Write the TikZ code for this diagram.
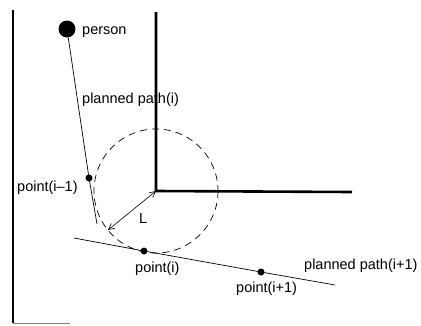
\documentclass[tikz,border=0pt]{standalone}
\usepackage{fontspec}
\setmainfont{Liberation Sans}
\usetikzlibrary{arrows.meta}
\begin{document}
\begin{tikzpicture}[x=1pt,y=-1pt,
  wall/.style={line width=2.6pt},
  pathline/.style={line width=0.7pt},
  dotpt/.style={circle,fill=black,inner sep=0pt,minimum size=7pt},
  lbl/.style={inner sep=0pt,anchor=base west,font=\fontsize{14.5}{16}\selectfont}]
\useasboundingbox (0,0) rectangle (421,325);
% walls
\coordinate (lw1) at (13,10);
\coordinate (lw2) at (13,323);
\coordinate (lb) at (70,323);
\draw[wall] (lw1) -- (lw2);
\draw[line width=0.8pt,gray] (lw2) -- (lb);
\coordinate (mw1) at (156,12);
\coordinate (corner) at (156,191);
\coordinate (hw) at (352,192);
\draw[wall,line join=miter] (mw1) -- (corner) -- (hw);
% dashed circle
\draw[dashed,dash pattern=on 7pt off 5pt,line width=0.7pt] (corner) circle[radius=62];
% person
\node[circle,fill=black,inner sep=0pt,minimum size=17pt] (person) at (67,29) {};
\node[lbl] (personl) at (82,34) {person};
% planned path(i)
\node[dotpt] (pim1) at (89,178) {};
\coordinate (pend) at (97,224);
\draw[pathline] (person) -- (pim1.center) -- (pend);
\node[lbl] (ppi) at (82,103) {planned path(i)};
\node[lbl] (pim1l) at (17,191) {point(i–1)};
% planned path(i+1)
\coordinate (q1) at (74,238);
\coordinate (q2) at (335,285);
\node[dotpt] (pi) at (144,251) {};
\node[dotpt] (pip1) at (261,272) {};
\draw[pathline] (q1) -- (pi.center) -- (pip1.center) -- (q2);
\node[lbl] (pil) at (135,272) {point(i)};
\node[lbl] (pip1l) at (236,292) {point(i+1)};
\node[lbl] (ppi1) at (304,269) {planned path(i+1)};
% L arrow
\coordinate (ltip) at (108,230);
\draw[line width=0.6pt,{Straight Barb[length=6pt,width=6pt]}-{Straight Barb[length=6pt,width=6pt]}] (ltip) -- (corner);
\node[lbl] (Ll) at (139,223) {L};
\end{tikzpicture}
\end{document}
